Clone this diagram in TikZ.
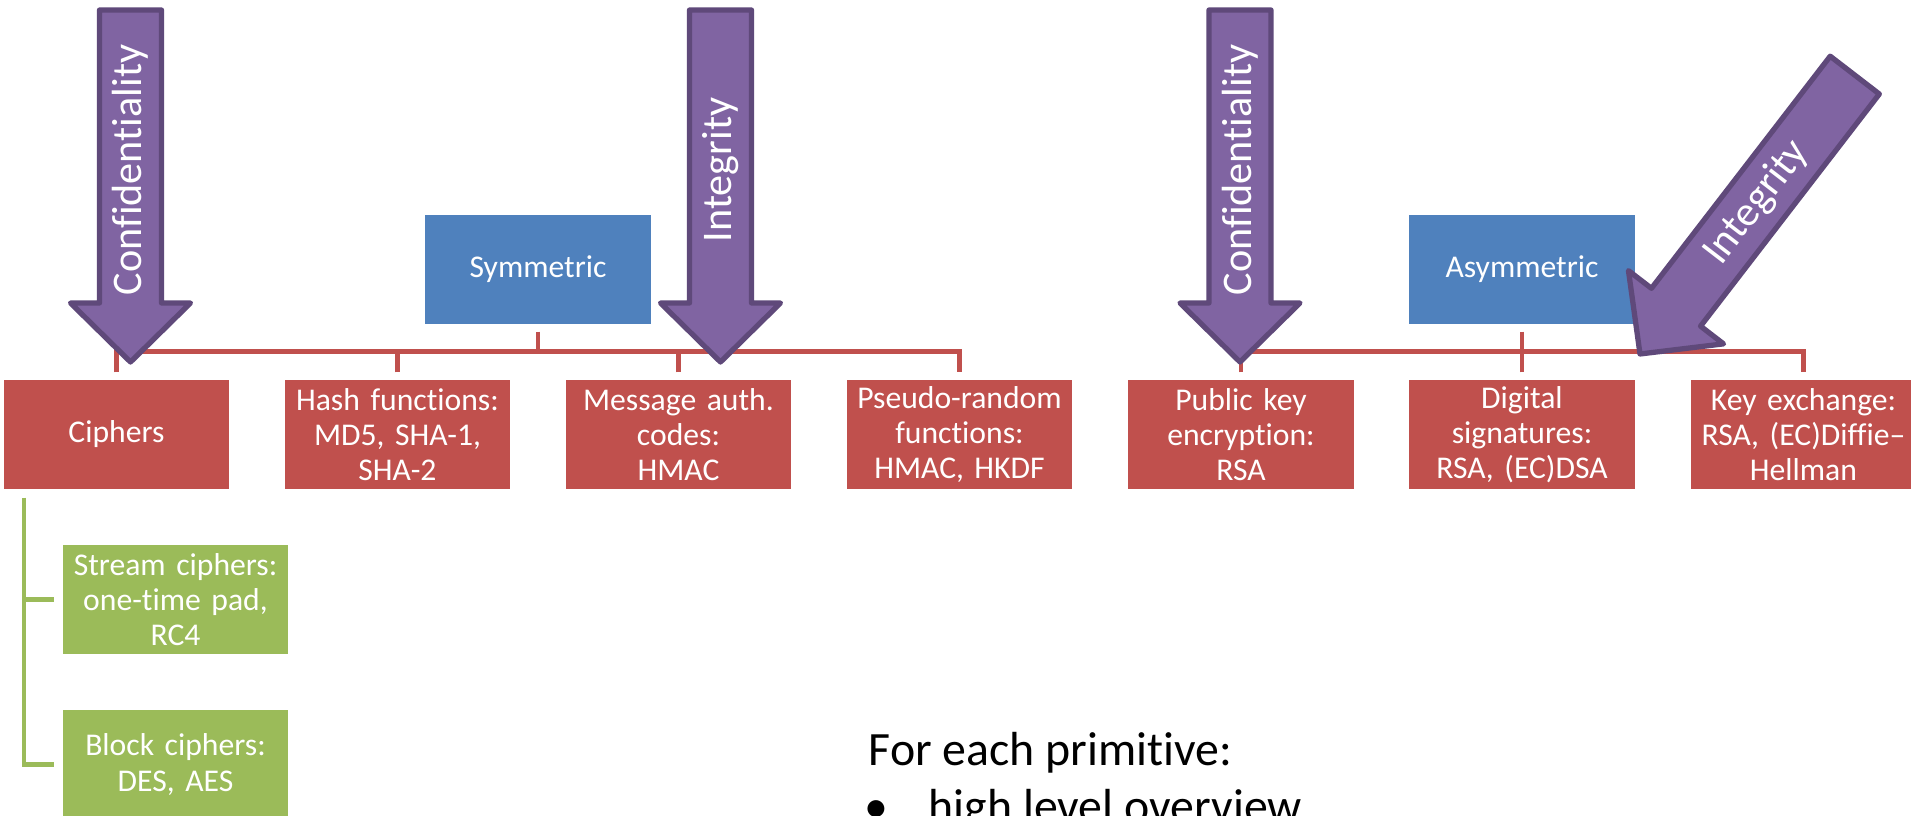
\documentclass[tikz,border=0pt]{standalone}
\usepackage{fontspec}
\setmainfont{Carlito}[Ligatures={NoCommon}]
\definecolor{accred}{HTML}{C0504D}
\definecolor{accblue}{HTML}{4F81BD}
\definecolor{accgreen}{HTML}{9BBB59}
\definecolor{accpurple}{HTML}{8064A2}
\definecolor{arrowedge}{HTML}{5F497A}
\begin{document}
\begin{tikzpicture}[x=0.01cm, y=-0.01cm,
  box/.style={rectangle, minimum width=2.27cm, minimum height=1.11cm, inner sep=0pt,
    text width=2.22cm, align=center, text=white, font=\fontsize{9}{10}\selectfont,
    draw=white, line width=0.4pt},
  redbox/.style={box, fill=accred},
  bluebox/.style={box, fill=accblue},
  greenbox/.style={box, fill=accgreen},
  redline/.style={draw=accred, line width=1.4pt, line join=miter},
  greenline/.style={draw=accgreen, line width=1.4pt, line join=miter},
  bigarrow/.style={fill=accpurple, draw=arrowedge, line width=1.5pt, line join=round},
  arrowtext/.style={text=white, font=\fontsize{12}{14}\selectfont, inner sep=0pt},
  bodytext/.style={anchor=base west, inner sep=0pt, text=black, font=\fontsize{13.6}{16}\selectfont}
]
\path[use as bounding box, clip] (0,0) rectangle (1911,816);
\fill[white] (0,0) rectangle (1911,816);

% top-level categories
\node[bluebox] (sym)  at (538,269.5)  {Symmetric};
\node[bluebox] (asym) at (1522,269.5) {Asymmetric};

% primitives
\node[redbox] (cip)  at (116.5,434.5) {Ciphers};
\node[redbox] (hash) at (397.5,434.5) {Hash functions:\\MD5, SHA-1,\\SHA-2};
\node[redbox] (mac)  at (678.5,434.5) {Message auth.\\codes:\\HMAC};
\node[redbox] (prf)  at (959.5,434.5) {Pseudo-random\\functions:\\HMAC, HKDF};
\node[redbox] (pke)  at (1241,434.5)  {Public key\\encryption:\\RSA};
\node[redbox] (sig)  at (1522,434.5)  {Digital\\signatures:\\RSA, (EC)DSA};
\node[redbox] (kex)  at (1803.5,434.5) {Key exchange:\\RSA, (EC)Diffie–\\Hellman};

% cipher families
\node[greenbox] (stream) at (175.5,599.5) {Stream ciphers:\\one-time pad,\\RC4};
\node[greenbox] (block)  at (175.5,764.5) {Block ciphers:\\DES, AES};

% hierarchy connectors
\coordinate (bus) at (0,351.5);
\coordinate (trunk) at (24,0);
\draw[redline, shorten <=0.06cm, shorten >=0.06cm]
  (cip.north) -- (cip.north |- bus) -- (prf.north |- bus) -- (prf.north);
\draw[redline, shorten <=0.06cm] (hash.north) -- (hash.north |- bus);
\draw[redline, shorten <=0.06cm] (mac.north) -- (mac.north |- bus);
\draw[redline, shorten <=0.06cm] (sym.south) -- (sym.south |- bus);
\draw[redline, shorten <=0.06cm, shorten >=0.06cm]
  (pke.north) -- (pke.north |- bus) -- (kex.north |- bus) -- (kex.north);
\draw[redline, shorten <=0.06cm] (sig.north) -- (sig.north |- bus);
\draw[redline, shorten <=0.06cm] (asym.south) -- (asym.south |- bus);

\draw[greenline, shorten <=0.07cm, shorten >=0.07cm]
  (cip.south -| trunk) -- (trunk |- block.west) -- (block.west);
\draw[greenline, shorten >=0.07cm] (trunk |- stream.west) -- (stream.west);

% security-goal arrows
\begin{scope}[shift={(130.5,362)}]
  \draw[bigarrow] (0,0) -- (-60,-59) -- (-31,-59) -- (-31,-352) -- (31,-352) -- (31,-59) -- (60,-59) -- cycle;
  \node[arrowtext, rotate=90] (conf1) at (0,-192) {Confidentiality};
\end{scope}
\begin{scope}[shift={(720.5,362)}]
  \draw[bigarrow] (0,0) -- (-60,-59) -- (-31,-59) -- (-31,-352) -- (31,-352) -- (31,-59) -- (60,-59) -- cycle;
  \node[arrowtext, rotate=90] (integ1) at (0,-192) {Integrity};
\end{scope}
\begin{scope}[shift={(1240,362)}]
  \draw[bigarrow] (0,0) -- (-60,-59) -- (-31,-59) -- (-31,-352) -- (31,-352) -- (31,-59) -- (60,-59) -- cycle;
  \node[arrowtext, rotate=90] (conf2) at (0,-192) {Confidentiality};
\end{scope}
\begin{scope}[shift={(1640,354)}, rotate=-37.6]
  \draw[bigarrow] (0,0) -- (-60,-59) -- (-31,-59) -- (-31,-352) -- (31,-352) -- (31,-59) -- (60,-59) -- cycle;
  \node[arrowtext, rotate=52.4] (integ2) at (0,-191) {Integrity};
\end{scope}

% notes
\node[bodytext] (intro) at (868,766) {For each primitive:};
\node[bodytext] (bullet) at (864,823) {•};
\node[bodytext] (item) at (928,823) {high level overview};
\end{tikzpicture}
\end{document}
